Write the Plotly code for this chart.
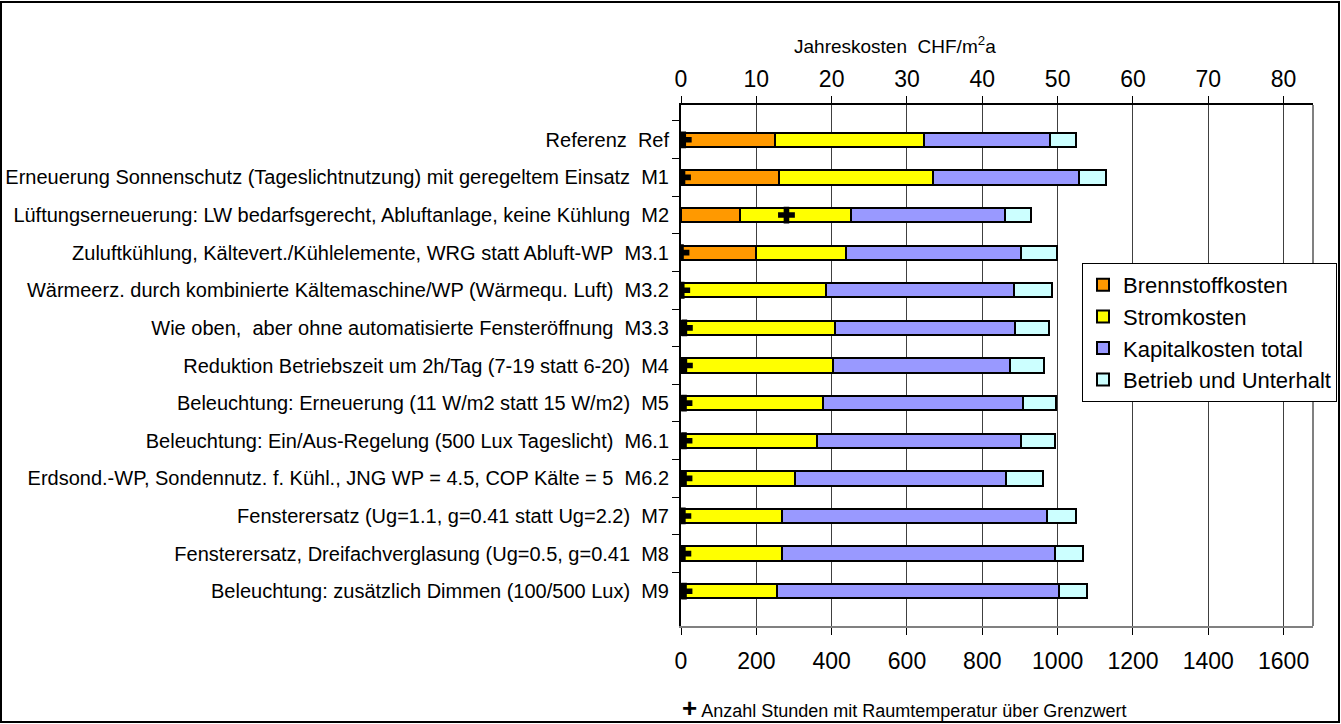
import plotly.graph_objects as go

# Massnahmen (Beschreibung + Kurzbezeichnung)
beschreibung = [
    "Referenz",
    "Erneuerung Sonnenschutz (Tageslichtnutzung) mit geregeltem Einsatz",
    "Lüftungserneuerung: LW bedarfsgerecht, Abluftanlage, keine Kühlung",
    "Zuluftkühlung, Kältevert./Kühlelemente, WRG statt Abluft-WP",
    "Wärmeerz. durch kombinierte Kältemaschine/WP (Wärmequ. Luft)",
    "Wie oben,  aber ohne automatisierte Fensteröffnung",
    "Reduktion Betriebszeit um 2h/Tag (7-19 statt 6-20)",
    "Beleuchtung: Erneuerung (11 W/m2 statt 15 W/m2)",
    "Beleuchtung: Ein/Aus-Regelung (500 Lux Tageslicht)",
    "Erdsond.-WP, Sondennutz. f. Kühl., JNG WP = 4.5, COP Kälte = 5",
    "Fensterersatz (Ug=1.1, g=0.41 statt Ug=2.2)",
    "Fensterersatz, Dreifachverglasung (Ug=0.5, g=0.41",
    "Beleuchtung: zusätzlich Dimmen (100/500 Lux)",
]
kuerzel = ["Ref", "M1", "M2", "M3.1", "M3.2", "M3.3", "M4", "M5",
           "M6.1", "M6.2", "M7", "M8", "M9"]

# Jahreskosten in CHF/m2a
brennstoffkosten = [12.5, 13.0, 7.8, 10.0, 0, 0, 0, 0, 0, 0, 0, 0, 0]
stromkosten = [19.8, 20.4, 14.8, 11.9, 19.2, 20.5, 20.2, 18.9, 18.0, 15.1, 13.4, 13.4, 12.7]
kapitalkosten = [16.7, 19.4, 20.4, 23.3, 25.0, 23.9, 23.5, 26.5, 27.2, 28.1, 35.2, 36.2, 37.5]
betrieb_unterhalt = [3.4, 3.6, 3.4, 4.7, 5.0, 4.5, 4.5, 4.4, 4.5, 4.8, 3.9, 3.7, 3.7]

# Anzahl Stunden mit Raumtemperatur über Grenzwert
stunden = [6, 4, 280, 0, 2, 9, 9, 8, 8, 8, 5, 5, 8]

nb = "\u00a0"
kategorien = [f"{b}{nb}{nb}{k}" for b, k in zip(beschreibung, kuerzel)]

FONT = "Liberation Sans, Arial, sans-serif"
W, H = 1341, 724
ML, MR, MT, MB = 681, 28, 105, 98
PW, PH = W - ML - MR, H - MT - MB


def px_x(x):
    return (x - ML) / PW


def px_y(y):
    return 1 - (y - MT) / PH


fig = go.Figure()

reihen = [
    ("Brennstoffkosten", brennstoffkosten, "#FF9900"),
    ("Stromkosten", stromkosten, "#FFFF00"),
    ("Kapitalkosten total", kapitalkosten, "#9999FF"),
    ("Betrieb und Unterhalt", betrieb_unterhalt, "#CCFFFF"),
]
for name, werte, farbe in reihen:
    fig.add_trace(go.Bar(
        name=name, x=werte, y=kategorien, orientation="h",
        xaxis="x", yaxis="y", legendgroup=name,
        marker=dict(color=farbe, line=dict(color="black", width=2)),
    ))

# Stunden-Markierungen auf der unteren Achse (liegt über den Balken)
fig.add_trace(go.Scatter(
    x=stunden, y=kategorien, mode="markers", xaxis="x2", yaxis="y",
    marker=dict(symbol="cross", size=14, color="black"),
    showlegend=False, cliponaxis=True,
))

x_max_chf = 83.9
fig.update_layout(
    width=W, height=H,
    margin=dict(l=ML, r=MR, t=MT, b=MB, autoexpand=False),
    paper_bgcolor="white", plot_bgcolor="white",
    barmode="stack", bargap=0.62,
    font=dict(family=FONT, size=19, color="black"),
    showlegend=True,
    legend=dict(
        x=px_x(1082), y=px_y(263), xanchor="left", yanchor="top",
        bgcolor="white", bordercolor="black", borderwidth=1,
        font=dict(family=FONT, size=22, color="black"),
        tracegroupgap=4, traceorder="normal", itemwidth=30,
    ),
    xaxis=dict(
        range=[0, x_max_chf], side="top",
        tickmode="array", tickvals=list(range(0, 81, 10)),
        showgrid=True, gridcolor="#404040", gridwidth=1,
        zeroline=False, showline=True, linecolor="black", linewidth=2,
        ticks="outside", ticklen=7, tickcolor="black",
        tickfont=dict(size=23), ticklabelstandoff=0,
    ),
    xaxis2=dict(
        range=[0, x_max_chf * 20], overlaying="x", side="bottom",
        tickmode="array", tickvals=list(range(0, 1601, 200)),
        showgrid=False, zeroline=False, showline=True,
        linecolor="#808080", linewidth=2,
        ticks="outside", ticklen=7, tickcolor="black",
        tickfont=dict(size=23), ticklabelstandoff=6,
    ),
    yaxis=dict(
        type="category", autorange="reversed",
        showline=True, linecolor="black", linewidth=2,
        ticks="outside", ticklen=7, tickcolor="black",
        tickson="boundaries", showgrid=False, zeroline=False,
        tickfont=dict(size=20), ticklabelstandoff=6,
    ),
)

# Rahmen der Zeichenfläche rechts und aussen um die ganze Grafik
fig.add_shape(type="line", xref="paper", yref="paper",
              x0=1, x1=1, y0=0, y1=1, line=dict(color="#808080", width=2))
fig.add_shape(type="rect", xref="paper", yref="paper",
              x0=px_x(1), x1=px_x(1339), y0=px_y(722), y1=px_y(2),
              line=dict(color="black", width=2), layer="above")

fig.add_annotation(
    xref="paper", yref="paper", x=px_x(895), y=px_y(45),
    text="Jahreskosten  CHF/m<sup>2</sup>a", showarrow=False,
    font=dict(size=19), xanchor="center", yanchor="middle",
)
fig.add_annotation(
    xref="paper", yref="paper", x=px_x(680), y=px_y(708),
    text="<span style='font-size:26px'><b>+</b></span> "
         "Anzahl Stunden mit Raumtemperatur über Grenzwert",
    showarrow=False, font=dict(size=18), xanchor="left", yanchor="middle",
)

fig.write_html("out.html")
